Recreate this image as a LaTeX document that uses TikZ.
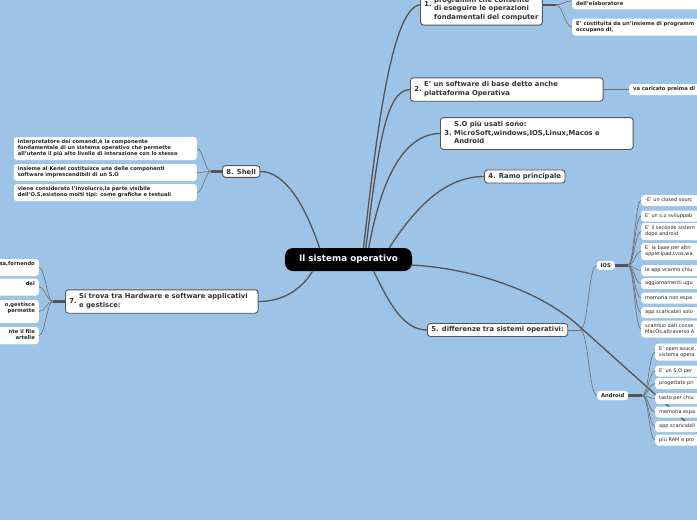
\documentclass[tikz,border=0pt]{standalone}
\usepackage{fontspec}
\setmainfont{DejaVu Sans}
\usetikzlibrary{positioning}

\definecolor{bgblue}{RGB}{157,195,230}
\definecolor{linegray}{RGB}{85,85,85}
\definecolor{textgray}{RGB}{51,51,51}

\newcommand{\mlines}[1]{\begin{tabular}{@{}l@{}}#1\end{tabular}}
\newcommand{\wlines}[1]{\begin{tabular}{@{}p{175pt}@{}}#1\end{tabular}}

\tikzset{
  root/.style={fill=black, text=white, rounded corners=8pt, minimum width=127pt,
    minimum height=23pt, inner sep=0pt, font=\fontsize{8.8}{10}\selectfont\bfseries},
  topic/.style={draw=linegray, fill=white, text=textgray, rounded corners=3pt,
    line width=0.9pt, inner xsep=4pt, inner ysep=3.2pt,
    font=\fontsize{6.8}{8.5}\selectfont\bfseries},
  leaf/.style={fill=white, text=black!85, rounded corners=3pt, inner xsep=4pt,
    inner ysep=2.5pt, font=\fontsize{5.2}{6}\selectfont\bfseries},
  thinleaf/.style={leaf, font=\fontsize{5}{6}\selectfont},
  branch/.style={draw=linegray, line width=1.3pt},
  stub/.style={draw=linegray, line width=2.2pt},
  twig/.style={draw=linegray!85, line width=0.6pt}
}

\begin{document}
\begin{tikzpicture}[x=1pt,y=-1pt]

% Page
\useasboundingbox (0,0) rectangle (697,520);
\fill[bgblue] (0,0) rectangle (697,520);
\clip (0,0) rectangle (697,520);

% Central topic
\node[root] (root) at (348.5,259.5) {Il sistema operativo};

% Long line behind the Android leaves
\coordinate (offpage) at (705,439);
\draw[branch] (root.-5) .. controls (470,268) and (540,290) .. (580,327) -- (offpage);

% Main topics
\node[topic, anchor=south west] (n1) at (420,25.5)
  {1.~\mlines{~\\programmi che consente\\di eseguire le operazioni\\fondamentali del computer}};
\node[topic, anchor=west] (n2) at (410,89.5)
  {2.~\wlines{E' un software di base detto anche\\plattaforma Operativa}};
\node[topic, anchor=west] (n3) at (440,133.5)
  {3.~\wlines{S.O più usati sono:\\MicroSoft,windows,IOS,Linux,Macos e\\Android}};
\node[topic, anchor=west] (n4) at (484,176.5) {4. Ramo principale};
\node[topic, anchor=west] (n5) at (427,330) {5. differenze tra sistemi operativi:};
\node[topic, anchor=west] (n7) at (65,301.5)
  {7.~\wlines{Si trova tra Hardware e software applicativi\\e gestisce:}};
\node[topic, anchor=west] (n8) at (222,171.5) {8. Shell};

% Leaves of 1 and 2
\node[leaf, anchor=south west] (c11) at (572,9.5) {\wlines{~\\dell'elaboratore}};
\node[leaf, anchor=west] (c12) at (572,27)
  {\wlines{E' costituita da un'insieme di programm\\occupano di,}};
\node[leaf, anchor=west] (c21) at (629,89.5) {\wlines{va caricato preima di}};

% Shell leaves
\node[leaf, anchor=east] (sh1) at (197,148.5)
  {\wlines{interpretatore dei comandi,è la componente\\fondamentale di un sistema operativo che permette\\all'utente il più alto livello di interazione con lo stesso}};
\node[leaf, anchor=east] (sh2) at (197,172.5)
  {\wlines{insieme al Kenel costituisce una delle componenti\\software imprescendibili di un S.O}};
\node[leaf, anchor=east] (sh3) at (197,192.5)
  {\wlines{viene considerato l'involucro,la parte visibile\\dell'O.S,esistono molti tipi: come grafiche e testuali}};

% Leaves of 7
\node[leaf, anchor=east] (g1) at (39,267.5) {\wlines{\hfill sa,fornendo\\~}};
\node[leaf, anchor=east] (g2) at (39,287) {\wlines{\hfill del\\~}};
\node[leaf, anchor=east] (g3) at (39,311.5) {\wlines{\hfill o,gestisce\\\hfill permette\hspace{3pt}\\~}};
\node[leaf, anchor=east] (g4) at (39,335.5) {\wlines{\hfill nte il file\\\hfill artelle\hspace{3pt}}};

% IOS and Android
\node[leaf, anchor=west] (ios) at (596.5,265.5) {IOS};
\node[leaf, anchor=west] (android) at (597,395.5) {Android};

\foreach \y/\t [count=\i] in {200.5/{-E' un closed sourc}, 216/{E' un s.o sviluppab},
    231.5/{E' il secondo sistem\\dopo android}, 251.5/{E' la base per altri\\apple:Ipad,tvos,wa},
    270.5/{le app vcanno chiu}, 283.5/{aggiornamenti ugu}, 298/{memoria non espa},
    312.5/{app scaricabili solo}, 329/{scambio dati conse\\MacOs,attraverso A}}
  \node[thinleaf, anchor=west] (ios\i) at (641,\y) {\wlines{\t}};

\foreach \y/\t [count=\i] in {352/{E' open souce,\\sistema opera}, 371/{E' un S.O per},
    383.5/{progettato pri}, 398.5/{tasto per chiu}, 412/{memoria espa},
    426.5/{app scaricabili}, 440/{più RAM e pro}}
  \node[thinleaf, anchor=west] (and\i) at (655,\y) {\wlines{\t}};

% Branches from the centre
\draw[branch] (root.38) .. controls (375,150) and (390,8) .. (n1.west);
\draw[branch] (root.34) .. controls (378,150) and (385,90) .. (n2.west);
\draw[branch] (root.30) .. controls (382,175) and (405,134) .. (n3.west);
\draw[branch] (root.16) .. controls (420,200) and (450,176.5) .. (n4.west);
\draw[branch] (root.-25) .. controls (388,300) and (402,330) .. (n5.west);
\draw[branch] (root.158) .. controls (305,205) and (285,171.5) .. (n8.east);
\draw[branch] (root.198) .. controls (300,292) and (280,301.5) .. (n7.east);

% Stubs and branch points
\coordinate[right=13pt of n1] (bp1);
\coordinate[right=12pt of n5] (bp5);
\coordinate[left=11pt of n8] (bp8);
\coordinate[left=12pt of n7] (bp7);
\coordinate[right=13pt of ios] (bpios);
\coordinate[right=14pt of android] (bpand);
\draw[stub] (n1) -- (bp1);
\draw[stub] (n8) -- (bp8);
\draw[stub] (n7) -- (bp7);
\draw[stub] (ios) -- (bpios);
\draw[stub] (android) -- (bpand);
\draw[twig] (n5) -- (bp5);
\draw[twig, line width=0.9pt] (n2) -- (c21);

% Twigs
\foreach \c in {c11,c12}
  \draw[twig] (bp1) .. controls +(7,0) and +(-7,0) .. (\c.west);
\foreach \c in {ios,android}
  \draw[twig] (bp5) .. controls +(8,0) and +(-8,0) .. (\c.west);
\foreach \c in {sh1,sh2,sh3}
  \draw[twig] (bp8) .. controls +(-6,0) and +(6,0) .. (\c.east);
\foreach \c in {g1,g2,g3,g4}
  \draw[twig] (bp7) .. controls +(-6,0) and +(6,0) .. (\c.east);
\foreach \i in {1,...,9}
  \draw[twig] (bpios) .. controls +(6,0) and +(-6,0) .. (ios\i.west);
\foreach \i in {1,...,7}
  \draw[twig] (bpand) .. controls +(6,0) and +(-6,0) .. (and\i.west);

\end{tikzpicture}
\end{document}
